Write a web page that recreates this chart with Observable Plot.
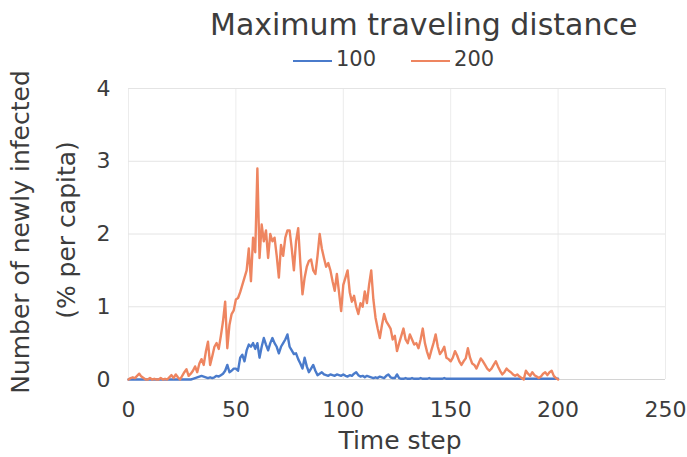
<!DOCTYPE html>
<html>
<head>
<meta charset="utf-8">
<script src="https://cdn.jsdelivr.net/npm/d3@7"></script>
<script src="https://cdn.jsdelivr.net/npm/@observablehq/plot@0.6"></script>
<style>
  html, body { margin: 0; padding: 0; background: #fff; }
  #chart { position: relative; width: 687px; height: 457px; font-family: "DejaVu Sans", sans-serif; color: #3c3c3c; }
  #title { position: absolute; left: 210px; top: 10px; font-size: 30px; line-height: 1; white-space: nowrap; }
  #legend { position: absolute; left: 293px; top: 49px; font-size: 21px; line-height: 1; display: flex; gap: 35px; white-space: nowrap; }
  .item { display: flex; align-items: center; gap: 4px; }
  .swatch { display: inline-block; width: 39px; height: 2px; margin-top: 2px; }
  .ylab { position: absolute; font-size: 25px; line-height: 1; white-space: nowrap; transform: translate(-50%, -50%) rotate(-90deg); }
  #xlab { position: absolute; font-size: 25px; line-height: 1; white-space: nowrap; transform: translate(-50%, -50%); }
</style>
</head>
<body>
<div id="chart"></div>
<script>
// ---- data ----
const titleText = "Maximum traveling distance";
const seriesNames = ["100", "200"];
const seriesColors = ["#4a7bcb", "#ee8560"];
const xTicks = [0, 50, 100, 150, 200, 250];
const yTicks = [0, 1, 2, 3, 4];
const xLabel = "Time step";
const yLabel1 = "Number of newly infected";
const yLabel2 = "(% per capita)";

// time steps 0..200
const timeSteps = d3.range(0, 201);

// Maximum traveling distance = 100
const values100 = [
  0,0,0,0,0, 0,0,0,0,0,
  0,0,0,0,0, 0,0,0,0,0,
  0,0,0,0,0, 0,0,0,0,0,
  0.01,0.02,0.03,0.04,0.05, 0.04,0.03,0.02,0.03,0.02,
  0.03,0.05,0.04,0.06,0.08, 0.12,0.2,0.1,0.12,0.15,
  0.15,0.12,0.3,0.34,0.25, 0.4,0.48,0.45,0.5,0.42,
  0.5,0.3,0.45,0.57,0.48, 0.4,0.5,0.57,0.5,0.45,
  0.36,0.45,0.5,0.55,0.62, 0.45,0.4,0.35,0.36,0.28,
  0.22,0.15,0.3,0.18,0.1, 0.15,0.2,0.12,0.06,0.08,
  0.1,0.07,0.06,0.05,0.07, 0.06,0.05,0.07,0.06,0.05,
  0.07,0.05,0.04,0.06,0.05, 0.08,0.1,0.06,0.04,0.05,
  0.03,0.05,0.04,0.03,0.02, 0.03,0.02,0.04,0.03,0.02,
  0.05,0.07,0.03,0.02,0.02, 0.07,0.02,0.01,0.01,0.02,
  0.01,0.01,0.02,0.01,0.01, 0.01,0.02,0.01,0.01,0.01,
  0.02,0.01,0.01,0.01,0.01, 0.01,0.01,0.02,0.01,0.01,
  0.01,0.01,0.01,0.01,0.01, 0.01,0.01,0.01,0.01,0.01,
  0.01,0.01,0.01,0.01,0.01, 0.01,0.01,0.01,0.01,0.01,
  0.01,0.01,0.01,0.01,0.01, 0.01,0.01,0.01,0.01,0.01,
  0.01,0.01,0.01,0.01,0.01, 0.01,0.01,0.01,0.01,0.01,
  0.01,0.01,0.01,0.01,0.01, 0.01,0.01,0.01,0.01,0.01,
  0.01
];

// Maximum traveling distance = 200
const values200 = [
  0,0.02,0.03,0.02,0.05, 0.08,0.04,0.02,0,0,
  0.02,0,0.01,0,0, 0.02,0,0.01,0,0.03,
  0.06,0.02,0.07,0.03,0, 0.05,0.1,0.14,0.05,0.08,
  0.12,0.18,0.1,0.22,0.28, 0.2,0.38,0.52,0.2,0.32,
  0.45,0.5,0.42,0.6,0.8, 1.07,0.43,0.75,0.9,0.95,
  1.1,1.12,1.2,1.3,1.4, 1.5,1.8,1.35,1.95,1.75,
  2.9,1.67,2.13,1.9,2.05, 1.67,2.0,1.9,1.95,1.7,
  1.4,1.85,1.7,1.95,2.05, 2.05,1.8,1.5,1.9,2.08,
  1.6,1.17,1.4,1.55,1.63, 1.65,1.5,1.45,1.7,2.0,
  1.8,1.67,1.55,1.6,1.5, 1.35,1.22,1.45,1.2,0.94,
  1.3,1.4,1.5,1.2,1.07, 1.15,1.0,0.9,1.05,1.0,
  1.21,1.05,1.3,1.5,1.1, 0.85,0.7,0.57,0.75,0.9,
  0.8,0.75,0.7,0.55,0.6, 0.39,0.5,0.6,0.7,0.55,
  0.5,0.62,0.55,0.48,0.5, 0.43,0.55,0.7,0.5,0.38,
  0.29,0.4,0.5,0.62,0.45, 0.35,0.39,0.45,0.3,0.28,
  0.25,0.3,0.39,0.33,0.25, 0.2,0.25,0.29,0.43,0.3,
  0.22,0.2,0.15,0.22,0.29, 0.25,0.2,0.15,0.12,0.15,
  0.2,0.25,0.18,0.12,0.07, 0.1,0.15,0.12,0.1,0.07,
  0.05,0.07,0.04,0.02,0, 0.12,0.08,0.05,0.1,0.06,
  0.04,0.02,0.04,0.08,0.1, 0.06,0.1,0.12,0.05,0.02,
  0
];

// ---- build table ----
const rows = [];
[values100, values200].forEach((vals, s) => {
  vals.forEach((v, i) => rows.push({t: timeSteps[i], v, series: seriesNames[s]}));
});

const chart = document.getElementById("chart");

const plot = Plot.plot({
  width: 687,
  height: 457,
  marginLeft: 128,
  marginRight: 22,
  marginTop: 88,
  marginBottom: 78,
  style: {fontFamily: "DejaVu Sans, sans-serif", fontSize: "22px", color: "#3c3c3c", background: "transparent"},
  x: {domain: [0, 250], ticks: xTicks, label: null},
  y: {domain: [0, 4], ticks: yTicks, label: null},
  color: {domain: seriesNames, range: seriesColors},
  marks: [
    Plot.gridX(xTicks, {stroke: "#ececec", strokeOpacity: 1, strokeWidth: 1}),
    Plot.gridY(yTicks, {stroke: "#e4e4e4", strokeOpacity: 1, strokeWidth: 1}),
    Plot.ruleY([0], {stroke: "#d4d4d4"}),
    Plot.axisX(xTicks, {tickSize: 0, tickPadding: 22, fontSize: 22, fill: "#3c3c3c", tickFormat: d => String(d)}),
    Plot.axisY(yTicks, {tickSize: 0, tickPadding: 18, fontSize: 22, fill: "#3c3c3c", tickFormat: d => String(d)}),
    Plot.line(rows, {x: "t", y: "v", z: "series", stroke: "series", strokeWidth: 2.4, strokeLinejoin: "round"})
  ]
});
plot.style.position = "absolute";
plot.style.left = "0";
plot.style.top = "0";
chart.appendChild(plot);

// title
const title = document.createElement("div");
title.id = "title";
title.textContent = titleText;
chart.appendChild(title);

// legend
const legend = document.createElement("div");
legend.id = "legend";
seriesNames.forEach((name, i) => {
  const item = document.createElement("div");
  item.className = "item";
  const sw = document.createElement("span");
  sw.className = "swatch";
  sw.style.background = seriesColors[i];
  const lab = document.createElement("span");
  lab.textContent = name;
  item.appendChild(sw);
  item.appendChild(lab);
  legend.appendChild(item);
});
chart.appendChild(legend);

// y labels
const yl1 = document.createElement("div");
yl1.className = "ylab";
yl1.textContent = yLabel1;
yl1.style.left = "20px";
yl1.style.top = "232px";
chart.appendChild(yl1);
const yl2 = document.createElement("div");
yl2.className = "ylab";
yl2.textContent = yLabel2;
yl2.style.left = "66px";
yl2.style.top = "230px";
chart.appendChild(yl2);

// x label
const xl = document.createElement("div");
xl.id = "xlab";
xl.textContent = xLabel;
xl.style.left = "400px";
xl.style.top = "440px";
chart.appendChild(xl);
</script>
</body>
</html>
